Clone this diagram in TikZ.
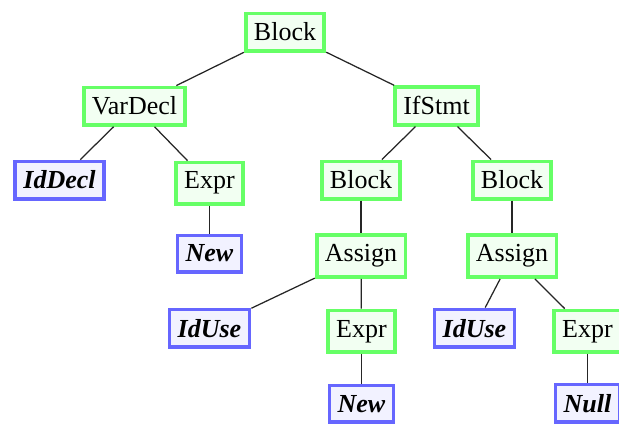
\documentclass[tikz,border=0pt]{standalone}
\usepackage{fontspec}
\setmainfont{Liberation Serif}
\begin{document}
\begin{tikzpicture}[x=0.4pt,y=-0.4pt,
  every node/.style={font=\fontsize{10.4}{12}\selectfont, inner xsep=3.3pt, inner ysep=3.8pt, line width=1.5pt, anchor=base},
  gbox/.style={draw=green!60, fill=green!5},
  bbox/.style={draw=blue!60, fill=blue!5, font=\fontsize{10.4}{12}\selectfont\bfseries\itshape},
  treeedge/.style={line width=0.5pt, black!85}]
\useasboundingbox (0,0) rectangle (619,425);
\node[gbox] (b0) at (285,41) {Block};
\node[gbox] (vd) at (134.5,115) {VarDecl};
\node[gbox] (if) at (436.5,115) {IfStmt};
\node[bbox] (idd) at (59.5,189) {IdDecl};
\node[gbox] (e1) at (209.5,189) {Expr};
\node[gbox] (b1) at (361,189) {Block};
\node[gbox] (b2) at (512,189) {Block};
\node[bbox] (n1) at (209.5,262) {New};
\node[gbox] (a1) at (361,262) {Assign};
\node[gbox] (a2) at (512,262) {Assign};
\node[bbox] (u1) at (209.5,337) {IdUse};
\node[gbox] (e2) at (361.5,337) {Expr};
\node[bbox] (u2) at (474.5,337) {IdUse};
\node[gbox] (e3) at (587.5,337) {Expr};
\node[bbox] (n2) at (361.5,412) {New};
\node[bbox] (nl) at (587.5,412) {Null};
\draw[treeedge] (b0) -- (vd);
\draw[treeedge] (b0) -- (if);
\draw[treeedge] (vd) -- (idd);
\draw[treeedge] (vd) -- (e1);
\draw[treeedge] (e1) -- (n1);
\draw[treeedge] (if) -- (b1);
\draw[treeedge] (if) -- (b2);
\draw[treeedge] (b1) -- (a1);
\draw[treeedge] (b2) -- (a2);
\draw[treeedge] (a1) -- (u1);
\draw[treeedge] (a1) -- (e2);
\draw[treeedge] (e2) -- (n2);
\draw[treeedge] (a2) -- (u2);
\draw[treeedge] (a2) -- (e3);
\draw[treeedge] (e3) -- (nl);
\end{tikzpicture}
\end{document}
